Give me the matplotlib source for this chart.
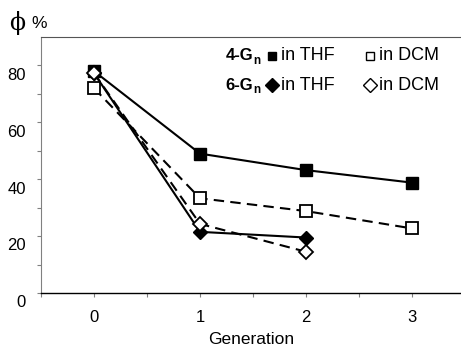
import numpy as np
import matplotlib
matplotlib.use("Agg")
import matplotlib.pyplot as plt
from matplotlib import transforms

plt.rcParams['font.family'] = ['Liberation Sans', 'DejaVu Sans']

# data
gen_4 = [0, 1, 2, 3]
g4_thf = [78, 49, 43.2, 38.8]
g4_dcm = [72, 33.3, 28.8, 22.7]
gen_6 = [0, 1, 2]
g6_thf = [77.3, 21.5, 19.5]
g6_dcm = [77.3, 24.3, 14.5]

W, H = 461, 347
fig = plt.figure(figsize=(W / 100, H / 100), dpi=100)
ax = fig.add_axes([41 / W, 54 / H, 424 / W, 256 / H])

lw = 1.5
ax.plot(gen_4, g4_thf, '-', color='black', lw=lw, marker='s', ms=8,
        mfc='black', mec='black', zorder=3)
ax.plot(gen_4, g4_dcm, '--', color='black', lw=lw, dashes=(5, 3), marker='s', ms=8,
        mfc='white', mec='black', mew=1.3, zorder=3)
ax.plot(gen_6, g6_thf, '-', color='black', lw=lw, marker='D', ms=6.8,
        mfc='black', mec='black', zorder=3)
ax.plot(gen_6, g6_dcm, '--', color='black', lw=lw, dashes=(5, 3), marker='D', ms=6.8,
        mfc='white', mec='black', mew=1.3, zorder=4)

ax.set_xlim(-0.5, 3.5)
ax.set_ylim(0, 90)
ax.set_xticks([0, 1, 2, 3])
ax.set_xticks([-0.5, 0.5, 1.5, 2.5], minor=True)
ax.set_yticks([0, 20, 40, 60, 80])
ax.set_yticks([10, 30, 50, 70], minor=True)
ax.tick_params(axis='both', which='both', direction='out', length=3, width=0.8,
               color='#808080', labelsize=12)
ax.tick_params(axis='x', pad=9)
ax.tick_params(axis='y', pad=8)
for lab in ax.get_yticklabels():
    lab.set_transform(lab.get_transform() +
                      transforms.ScaledTranslation(0, -6 / 72, fig.dpi_scale_trans))

ax.spines['right'].set_visible(False)
ax.spines['left'].set_color('#808080')
ax.spines['top'].set_color('#555555')
ax.spines['bottom'].set_color('black')
ax.spines['bottom'].set_linewidth(1.0)

fig.text(251 / W, 1 - 339 / H, 'Generation', ha='center', va='center', fontsize=12.5)
fig.text(9 / W, 1 - 23 / H, 'ϕ', family='DejaVu Serif', fontsize=17,
         ha='left', va='center')
fig.text(31 / W, 1 - 24 / H, '%', fontsize=12.5, ha='left', va='center')

# legend drawn by hand
def fy(y):
    return 1 - y / H

for y, num, mk, ms in [(56, '4-G', 's', 6), (85, '6-G', 'D', 7)]:
    fig.text(253 / W, fy(y), num, fontweight='bold', fontsize=12,
             ha='right', va='center')
    fig.text(253 / W, fy(y + 5), 'n', fontweight='bold', fontsize=8.5,
             ha='left', va='center')
    fig.lines.append(plt.Line2D([272 / W], [fy(y)], marker=mk, ms=ms, mfc='black',
                                mec='black', transform=fig.transFigure))
    fig.text(281 / W, fy(y), 'in THF', fontsize=13, ha='left', va='center')
    fig.lines.append(plt.Line2D([370 / W], [fy(y)], marker=mk, ms=ms, mfc='white',
                                mec='black', mew=1.0, transform=fig.transFigure))
    fig.text(379 / W, fy(y), 'in DCM', fontsize=13, ha='left', va='center')

fig.savefig('out.png', dpi=100)
